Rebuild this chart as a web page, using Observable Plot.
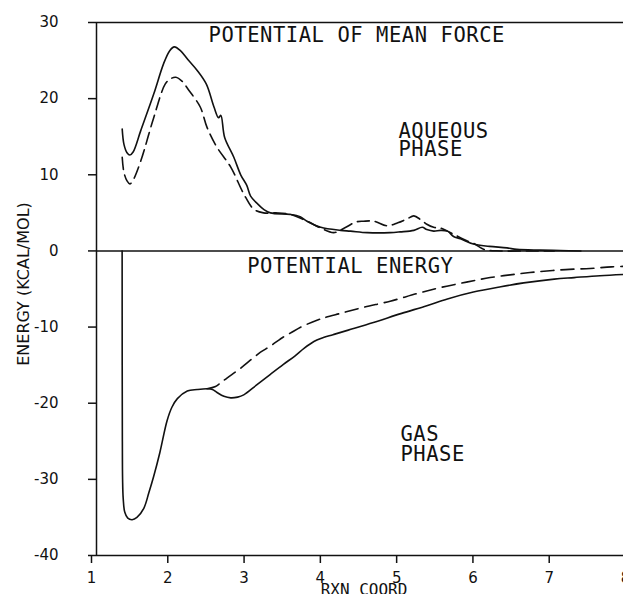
<!DOCTYPE html>
<html>
<head>
<meta charset="utf-8">
<script src="https://cdn.jsdelivr.net/npm/d3@7"></script>
<script src="https://cdn.jsdelivr.net/npm/@observablehq/plot@0.6"></script>
<style>
  html, body { margin: 0; padding: 0; background: #fff; overflow: hidden; }
  #chart svg { display: block; }
</style>
</head>
<body>
<div id="chart"></div>
<script>
// ---- Data ----
// Aqueous phase, potential of mean force — solid curve
const aqSolidX = [1.337, 1.36, 1.40, 1.437, 1.48, 1.58, 1.75, 1.88, 1.96, 2.02, 2.10, 2.20, 2.32, 2.44, 2.54, 2.60, 2.63, 2.68, 2.80, 2.89, 2.97, 3.02, 3.11, 3.20, 3.28, 3.54, 3.67, 3.76, 3.94, 4.20, 4.33, 4.55, 4.85, 4.98, 5.16, 5.27, 5.33, 5.42, 5.51, 5.60, 5.68, 5.77, 5.94, 6.15, 6.38, 6.51, 6.82, 7.08, 7.35];
const aqSolidY = [16.0, 14.0, 12.9, 12.6, 13.0, 15.8, 20.6, 24.6, 26.3, 26.8, 26.3, 25.1, 23.7, 21.9, 18.9, 17.5, 17.8, 14.9, 12.3, 10.0, 8.6, 7.2, 6.2, 5.4, 5.0, 4.8, 4.5, 3.9, 3.1, 2.7, 2.6, 2.4, 2.4, 2.5, 2.7, 3.1, 2.8, 2.6, 2.7, 2.6, 1.9, 1.6, 0.9, 0.6, 0.4, 0.2, 0.1, 0.05, 0.0];
// Aqueous phase — dashed curve
const aqDashX = [1.337, 1.36, 1.40, 1.437, 1.48, 1.58, 1.75, 1.90, 1.97, 2.04, 2.12, 2.21, 2.36, 2.45, 2.58, 2.76, 2.93, 3.06, 3.19, 3.35, 3.54, 3.76, 3.94, 4.11, 4.25, 4.40, 4.50, 4.64, 4.81, 4.95, 5.07, 5.16, 5.25, 5.33, 5.42, 5.51, 5.60, 5.68, 5.86, 5.94, 6.08, 6.30, 6.70, 7.00];
const aqDashY = [12.3, 10.3, 9.2, 8.8, 9.3, 11.8, 17.5, 21.9, 22.6, 22.8, 22.3, 21.1, 18.9, 16.2, 13.6, 11.0, 7.5, 5.5, 5.0, 5.0, 4.8, 3.9, 3.0, 2.4, 3.0, 3.8, 3.9, 3.9, 3.3, 3.7, 4.2, 4.6, 4.1, 3.5, 3.1, 3.0, 2.6, 2.2, 1.3, 1.0, 0.2, 0.0, 0.0, 0.0];
// Gas phase, potential energy — solid curve
const gasSolidX = [1.336, 1.337, 1.339, 1.342, 1.35, 1.37, 1.41, 1.467, 1.53, 1.62, 1.685, 1.75, 1.83, 1.925, 1.99, 2.06, 2.19, 2.32, 2.45, 2.52, 2.58, 2.67, 2.76, 2.85, 2.93, 3.10, 3.28, 3.45, 3.60, 3.72, 3.85, 3.94, 4.10, 4.30, 4.63, 5.00, 5.33, 5.60, 5.94, 6.30, 6.60, 7.00, 7.26, 7.60, 8.00];
const gasSolidY = [0, -15, -25, -30, -32.5, -34.3, -35.1, -35.3, -35.0, -33.8, -31.8, -29.6, -26.5, -22.3, -20.5, -19.4, -18.4, -18.2, -18.1, -18.2, -18.6, -19.1, -19.3, -19.2, -18.9, -17.6, -16.2, -14.9, -13.8, -12.8, -11.9, -11.5, -11.0, -10.4, -9.4, -8.2, -7.2, -6.3, -5.4, -4.7, -4.2, -3.7, -3.5, -3.25, -3.05];
// Gas phase — dashed curve (coincides with the solid one below 2.45)
const gasDashX = [2.45, 2.56, 2.63, 2.71, 2.89, 3.06, 3.15, 3.28, 3.45, 3.54, 3.70, 3.89, 3.98, 4.20, 4.50, 4.85, 5.20, 5.51, 5.85, 6.16, 6.50, 6.82, 7.15, 7.47, 7.75, 8.00];
const gasDashY = [-18.1, -17.8, -17.3, -16.7, -15.4, -14.0, -13.3, -12.5, -11.3, -10.8, -9.9, -9.1, -8.8, -8.2, -7.4, -6.6, -5.6, -4.8, -4.1, -3.5, -3.05, -2.7, -2.45, -2.3, -2.1, -2.0];

const xTicks = [1, 2, 3, 4, 5, 6, 7, 8];
const yTicks = [30, 20, 10, 0, -10, -20, -30, -40];
const xTitle = "RXN COORD";
const yTitle = "ENERGY (KCAL/MOL)";
// Annotations: text, x, y (data units, baseline)
const noteText = ["POTENTIAL OF MEAN FORCE", "AQUEOUS", "PHASE", "POTENTIAL ENERGY", "GAS", "PHASE"];
const noteX = [2.468, 4.958, 4.958, 2.975, 4.984, 4.984];
const noteY = [27.4, 14.87, 12.5, -2.86, -25.0, -27.6];

// ---- Build tables ----
const pts = (xs, ys) => xs.map((x, i) => ({x, y: ys[i]}));
const aqSolid = pts(aqSolidX, aqSolidY);
const aqDash = pts(aqDashX, aqDashY);
const gasSolid = pts(gasSolidX, gasSolidY);
const gasDash = pts(gasDashX, gasDashY);
const notes = noteText.map((t, i) => ({t, x: noteX[i], y: noteY[i]}));

const ink = "#111";
const mono = "'DejaVu Sans Mono', monospace";
const sans = "'DejaVu Sans', sans-serif";

const chart = Plot.plot({
  width: 623,
  height: 594,
  marginLeft: 96,
  marginRight: 0,
  marginTop: 22,
  marginBottom: 39,
  x: {domain: [1, 8], range: [96, 630]},
  y: {domain: [-40, 30], range: [555, 22]},
  style: {background: "#fff", color: ink, fontFamily: sans},
  marks: [
    Plot.axisY(yTicks, {
      tickSize: 8, tickPadding: 30, fontSize: 15, fontFamily: sans,
      label: null, stroke: ink, strokeWidth: 1.5,
      tickFormat: d => (d < 0 ? "-" + Math.abs(d) : String(d))
    }),
    Plot.axisX(xTicks, {
      tickSize: 8, tickPadding: 9, fontSize: 15, fontFamily: sans, dx: -5,
      label: null, stroke: ink, strokeWidth: 1.5, tickFormat: d => String(d)
    }),
    Plot.ruleY([30, 0, -40], {stroke: ink, strokeWidth: 1.5}),
    Plot.ruleX([1], {stroke: ink, strokeWidth: 1.5}),
    Plot.line(aqSolid, {x: "x", y: "y", curve: "catmull-rom", stroke: ink, strokeWidth: 1.6}),
    Plot.line(aqDash, {x: "x", y: "y", curve: "catmull-rom", stroke: ink, strokeWidth: 1.6, strokeDasharray: "12,6"}),
    Plot.line(gasSolid, {x: "x", y: "y", curve: "catmull-rom", stroke: ink, strokeWidth: 1.6}),
    Plot.line(gasDash, {x: "x", y: "y", curve: "catmull-rom", stroke: ink, strokeWidth: 1.6, strokeDasharray: "13,7"}),
    Plot.text(notes, {
      x: "x", y: "y", text: "t", textAnchor: "start", lineAnchor: "bottom",
      fontFamily: mono, fontSize: 20.5, fill: ink
    }),
    Plot.text([xTitle], {
      frameAnchor: "bottom", textAnchor: "middle", dx: 4, dy: 39, lineAnchor: "bottom",
      fontFamily: mono, fontSize: 16, fill: ink
    }),
    Plot.text([yTitle], {
      frameAnchor: "left", textAnchor: "middle", rotate: -90, dx: -73, dy: -5,
      fontFamily: sans, fontSize: 16, fill: ink
    })
  ]
});

// widen the plotter-style annotation lettering slightly
d3.select(chart).selectAll("text")
  .filter(function () { return noteText.includes(this.textContent); })
  .style("letter-spacing", "0.55px");

document.getElementById("chart").append(chart);
</script>
</body>
</html>
